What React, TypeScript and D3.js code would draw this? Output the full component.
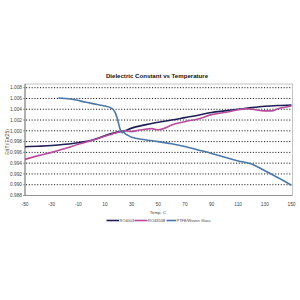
import React from "react";
import * as d3 from "d3";

const title = "Dielectric Constant vs Temperature";
const xLabel = "Temp. C";
const yLabel = "Er(T)/Er(25)";
const xTicks = [-50, -30, -10, 10, 30, 50, 70, 90, 110, 130, 150];
const yTicks = [0.988, 0.99, 0.992, 0.994, 0.996, 0.998, 1.0, 1.002, 1.004, 1.006, 1.008];
const seriesNames = ["RO4003", "RO4350B", "PTFE/Woven Glass"];
const seriesColors = ["#1f1f57", "#b94c9f", "#4b78a8"];

const ro4003T = [-50, -40, -30, -20, -10, 0, 10, 20, 25, 30, 40, 50, 60, 70, 80, 90, 100, 110, 120, 130, 140, 150];
const ro4003V = [0.99705, 0.99715, 0.99728, 0.9975, 0.9978, 0.99825, 0.9991, 0.9998, 1.0, 1.0005, 1.0011, 1.0016, 1.002, 1.00245, 1.0029, 1.0034, 1.0037, 1.004, 1.0043, 1.00455, 1.0047, 1.0048];

const ro4350T = [-50, -40, -30, -20, -10, 0, 10, 20, 25, 30, 35, 40, 45, 50, 55, 60, 70, 80, 90, 100, 110, 115, 120, 130, 135, 140, 150];
const ro4350V = [0.9947, 0.9954, 0.996, 0.9967, 0.9975, 0.9982, 0.999, 0.99975, 1.0, 0.99985, 1.0001, 1.0003, 1.0004, 1.0002, 1.0005, 1.0011, 1.0017, 1.0022, 1.003, 1.0034, 1.0039, 1.0041, 1.004, 1.0037, 1.0037, 1.0041, 1.0046];

const ptfeT = [-25, -16, -4, 6, 10, 14, 16, 17, 18, 19, 20, 21, 22, 23, 24, 25, 27, 30, 40, 50, 60, 70, 80, 90, 100, 110, 120, 130, 140, 150];
const ptfeV = [1.0061, 1.0059, 1.0053, 1.0048, 1.0046, 1.0043, 1.004, 1.0037, 1.0032, 1.0025, 1.0016, 1.0006, 0.99995, 0.99965, 0.9998, 0.9995, 0.9992, 0.9988, 0.99835, 0.998, 0.9976, 0.9971, 0.99645, 0.9958, 0.9951, 0.9944, 0.99385, 0.9926, 0.9913, 0.9899];

const seriesT = [ro4003T, ro4350T, ptfeT];
const seriesV = [ro4003V, ro4350V, ptfeV];

export default function App() {
  const W = 300, H = 300;
  const left = 25, right = 291.5, top = 84, bottom = 195.5;
  const x = d3.scaleLinear().domain([-50, 150]).range([left, right]);
  const y = d3.scaleLinear().domain([0.988, 1.008]).range([bottom, 87.7]);
  const line = d3
    .line<[number, number]>()
    .x((d) => x(d[0]))
    .y((d) => y(d[1]))
    .curve(d3.curveMonotoneX);
  const font = "'Liberation Sans', Arial, sans-serif";
  const legendItems = [
    { x0: 106.5, x1: 119 },
    { x0: 134.5, x1: 147.5 },
    { x0: 166.5, x1: 176 },
  ];
  return (
    <svg width={W} height={H} style={{ position: "absolute", left: 0, top: 0, background: "#fff" }} fontFamily={font}>
      <rect x={0} y={0} width={W} height={H} fill="#fff" />
      <text x={157} y={78} textAnchor="middle" fontSize={6.1} fontWeight="bold" fill="#111">
        {title}
      </text>
      {/* frame */}
      <rect x={left} y={top} width={right - left + 1} height={bottom - top} fill="none" stroke="#aaa" strokeWidth={0.7} />
      {/* gridlines */}
      {yTicks.slice(1).map((t) => (
        <line key={"g" + t} x1={left + 1} x2={right} y1={y(t)} y2={y(t)} stroke="#000" strokeWidth={0.9} strokeDasharray="1.1 1.7" />
      ))}
      {/* axes */}
      <line x1={left} x2={left} y1={top} y2={bottom} stroke="#666" strokeWidth={0.8} />
      <line x1={left} x2={right + 1} y1={bottom} y2={bottom} stroke="#888" strokeWidth={0.8} />
      {yTicks.map((t) => (
        <g key={"y" + t}>
          <line x1={left - 2} x2={left} y1={y(t)} y2={y(t)} stroke="#666" strokeWidth={0.6} />
          <text x={left - 3} y={y(t) + 1.7} textAnchor="end" fontSize={4.8} fill="#444">
            {d3.format(".3f")(t)}
          </text>
        </g>
      ))}
      {xTicks.map((t) => (
        <text key={"x" + t} x={x(t)} y={205.5} textAnchor="middle" fontSize={4.8} fill="#444">
          {t}
        </text>
      ))}
      <text x={158} y={214} textAnchor="middle" fontSize={4.4} fill="#444">
        {xLabel}
      </text>
      <text transform={`translate(8.5,${142}) rotate(-90)`} textAnchor="middle" fontSize={4.8} fill="#444">
        {yLabel}
      </text>
      {/* series */}
      {seriesT.map((ts, i) => (
        <path
          key={"s" + i}
          d={line(ts.map((t, j) => [t, seriesV[i][j]] as [number, number])) || ""}
          fill="none"
          stroke={seriesColors[i]}
          strokeWidth={1.6}
        />
      ))}
      {/* legend */}
      {seriesNames.map((n, i) => (
        <g key={"l" + i}>
          <line x1={legendItems[i].x0} x2={legendItems[i].x1} y1={220.5} y2={220.5} stroke={seriesColors[i]} strokeWidth={1.6} />
          <text x={legendItems[i].x1 + 0.6} y={222} fontSize={3.9} fill="#444">
            {n}
          </text>
        </g>
      ))}
    </svg>
  );
}
